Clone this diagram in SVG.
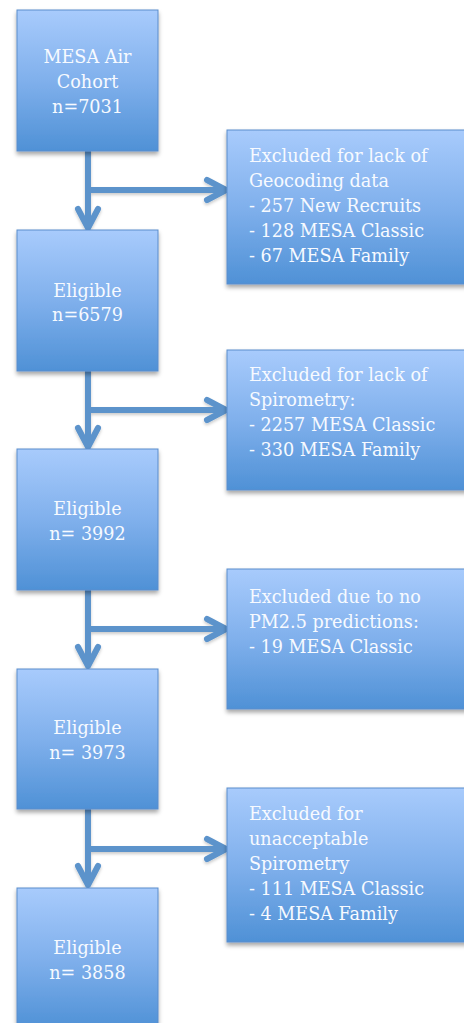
<svg xmlns="http://www.w3.org/2000/svg" width="464" height="1023" viewBox="0 0 464 1023">
  <defs>
    <linearGradient id="boxFill" x1="0" y1="0" x2="0" y2="1">
      <stop offset="0" stop-color="#a8cbfc"/>
      <stop offset="0.5" stop-color="#80b0ec"/>
      <stop offset="1" stop-color="#4f91d6"/>
    </linearGradient>
    <filter id="shadow" x="-10%" y="-10%" width="130%" height="130%">
      <feDropShadow dx="0" dy="3" stdDeviation="2" flood-color="#000" flood-opacity="0.35"/>
    </filter>
    <filter id="lineShadow" x="-10%" y="-10%" width="130%" height="130%">
      <feDropShadow dx="0" dy="2" stdDeviation="1.5" flood-color="#000" flood-opacity="0.2"/>
    </filter>
  </defs>
  <style>
    .box { fill: url(#boxFill); stroke: #5a8dcc; stroke-width: 1; filter: url(#shadow); }
    .lbl { font-family: "DejaVu Serif", "Liberation Serif", serif; font-size: 17.6px; fill: #f7faff; }
    .mid { text-anchor: middle; }
    .conn { fill: none; stroke: #5b93cb; stroke-width: 6; stroke-linecap: round; stroke-linejoin: round; }
  </style>

  <rect width="464" height="1023" fill="#ffffff"/>

  <!-- connectors: trunk segments, side branches and open chevron heads -->
  <g id="connectors" filter="url(#lineShadow)">
    <path class="conn" d="M88 151 V228 M78 209 L88 228 L98 209 M88 190 H226 M207 180 L226 190 L207 200"/>
    <path class="conn" d="M88 371 V447 M78 428 L88 447 L98 428 M88 410 H226 M207 400 L226 410 L207 420"/>
    <path class="conn" d="M88 590 V666 M78 647 L88 666 L98 647 M88 629 H226 M207 619 L226 629 L207 639"/>
    <path class="conn" d="M88 809 V885 M78 866 L88 885 L98 866 M88 849 H226 M207 839 L226 849 L207 859"/>
  </g>

  <!-- main flow -->
  <g id="cohort">
    <rect class="box" x="17" y="10" width="141" height="141"/>
    <text class="lbl mid" x="87.5" y="63">MESA Air</text>
    <text class="lbl mid" x="87.5" y="88">Cohort</text>
    <text class="lbl mid" x="87.5" y="113">n=7031</text>
  </g>
  <g id="eligible1">
    <rect class="box" x="17" y="230" width="141" height="141"/>
    <text class="lbl mid" x="87.5" y="297">Eligible</text>
    <text class="lbl mid" x="87.5" y="321">n=6579</text>
  </g>
  <g id="eligible2">
    <rect class="box" x="17" y="449" width="141" height="141"/>
    <text class="lbl mid" x="87.5" y="515">Eligible</text>
    <text class="lbl mid" x="87.5" y="540">n= 3992</text>
  </g>
  <g id="eligible3">
    <rect class="box" x="17" y="669" width="141" height="140"/>
    <text class="lbl mid" x="87.5" y="734">Eligible</text>
    <text class="lbl mid" x="87.5" y="759">n= 3973</text>
  </g>
  <g id="eligible4">
    <rect class="box" x="17" y="888" width="141" height="141"/>
    <text class="lbl mid" x="87.5" y="954">Eligible</text>
    <text class="lbl mid" x="87.5" y="979">n= 3858</text>
  </g>

  <!-- exclusions -->
  <g id="excl-geocoding">
    <rect class="box" x="227" y="130" width="245" height="154"/>
    <text class="lbl" x="249" y="162">Excluded for lack of</text>
    <text class="lbl" x="249" y="187">Geocoding data</text>
    <text class="lbl" x="249" y="212">- 257 New Recruits</text>
    <text class="lbl" x="249" y="237">- 128 MESA Classic</text>
    <text class="lbl" x="249" y="262">- 67 MESA Family</text>
  </g>
  <g id="excl-spirometry">
    <rect class="box" x="227" y="350" width="245" height="140"/>
    <text class="lbl" x="249" y="381">Excluded for lack of</text>
    <text class="lbl" x="249" y="406">Spirometry:</text>
    <text class="lbl" x="249" y="431">- 2257 MESA Classic</text>
    <text class="lbl" x="249" y="456">- 330 MESA Family</text>
  </g>
  <g id="excl-pm25">
    <rect class="box" x="227" y="569" width="245" height="140"/>
    <text class="lbl" x="249" y="603">Excluded due to no</text>
    <text class="lbl" x="249" y="628">PM2.5 predictions:</text>
    <text class="lbl" x="249" y="653">- 19 MESA Classic</text>
  </g>
  <g id="excl-unacceptable">
    <rect class="box" x="227" y="788" width="245" height="154"/>
    <text class="lbl" x="249" y="820">Excluded for</text>
    <text class="lbl" x="249" y="845">unacceptable</text>
    <text class="lbl" x="249" y="870">Spirometry</text>
    <text class="lbl" x="249" y="895">- 111 MESA Classic</text>
    <text class="lbl" x="249" y="920">- 4 MESA Family</text>
  </g>
</svg>
